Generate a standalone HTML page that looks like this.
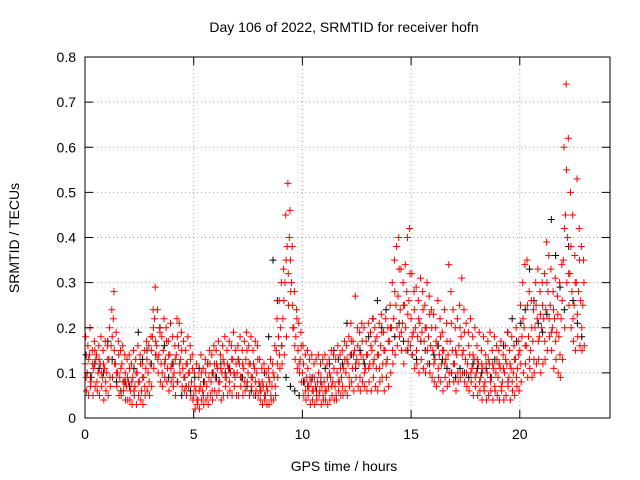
<!DOCTYPE html>
<html><head><meta charset="utf-8"><style>
body{margin:0;background:#fff;}
svg{display:block;font-family:"Liberation Sans",sans-serif;}
</style></head><body>
<svg id="chart" width="640" height="480">
<rect width="640" height="480" fill="#fff"/>
<g id="grid"></g>
<g id="marks"></g>
<rect x="85" y="57" width="525" height="361" fill="none" stroke="#000" stroke-width="1"/>
<g id="axes"></g>
<text x="344" y="32" font-size="14" text-anchor="middle">Day 106 of 2022, SRMTID for receiver hofn</text>
<text x="344" y="471" font-size="14" text-anchor="middle">GPS time / hours</text>
<text transform="translate(19,238) rotate(-90)" font-size="14" text-anchor="middle">SRMTID / TECUs</text>
</svg>
<script>
const xTicks=[0,5,10,15,20];
const yTicks=[0,0.1,0.2,0.3,0.4,0.5,0.6,0.7,0.8];
const yTickLabels=["0","0.1","0.2","0.3","0.4","0.5","0.6","0.7","0.8"];
const tStart=0, tStep=0.1;
const midVals=[.12,.10,.14,.09,.11,.13,.10,.12,.09,.11,.10,.13,.16,.22,.12,.10,.09,.12,.08,.07,.08,.06,.09,.07,.10,.08,.06,.09,.11,.10,.12,.18,.22,.16,.14,.12,.15,.13,.11,.14,.12,.10,.14,.16,.13,.11,.09,.12,.10,.08,.05,.06,.04,.07,.06,.08,.07,.09,.08,.10,.09,.11,.08,.10,.12,.09,.11,.10,.13,.09,.10,.12,.09,.11,.13,.10,.12,.09,.11,.10,.08,.06,.07,.05,.06,.08,.07,.09,.15,.18,.20,.22,.30,.38,.40,.30,.20,.18,.15,.13,.10,.08,.09,.07,.08,.06,.07,.08,.06,.07,.08,.06,.07,.09,.08,.07,.10,.08,.09,.11,.10,.12,.14,.11,.15,.13,.12,.14,.13,.11,.14,.12,.15,.13,.11,.14,.16,.12,.15,.13,.17,.20,.22,.25,.27,.24,.21,.25,.28,.26,.22,.19,.20,.18,.21,.19,.17,.20,.18,.16,.15,.13,.16,.14,.12,.15,.13,.14,.17,.15,.12,.14,.16,.18,.15,.13,.12,.14,.11,.13,.10,.12,.09,.11,.08,.10,.12,.09,.11,.10,.09,.11,.08,.10,.12,.09,.11,.10,.13,.11,.15,.18,.20,.16,.18,.15,.17,.20,.22,.18,.20,.22,.24,.28,.25,.20,.22,.19,.18,.22,.35,.45,.40,.32,.28,.25,.30,.28,.26,.25];
const hiVals=[.18,.16,.20,.15,.17,.14,.16,.18,.15,.17,.16,.20,.24,.28,.19,.17,.15,.16,.14,.13,.14,.12,.15,.13,.16,.14,.12,.15,.17,.16,.18,.24,.29,.24,.20,.18,.22,.20,.17,.21,.18,.16,.22,.21,.19,.17,.15,.18,.16,.14,.10,.12,.09,.14,.11,.13,.12,.15,.14,.16,.15,.17,.14,.16,.18,.15,.17,.16,.19,.15,.16,.18,.15,.17,.19,.16,.18,.15,.17,.16,.13,.11,.12,.10,.11,.13,.12,.16,.22,.26,.30,.33,.45,.52,.46,.38,.28,.24,.21,.19,.16,.14,.15,.13,.14,.12,.13,.14,.12,.13,.14,.12,.13,.15,.14,.13,.16,.14,.15,.17,.16,.18,.21,.17,.27,.20,.19,.21,.20,.17,.21,.19,.22,.20,.18,.21,.23,.19,.22,.20,.25,.30,.35,.38,.40,.33,.30,.34,.40,.42,.32,.28,.29,.26,.31,.28,.25,.30,.27,.24,.23,.20,.26,.22,.19,.24,.21,.34,.28,.24,.20,.22,.25,.31,.24,.21,.19,.22,.18,.20,.16,.19,.15,.18,.14,.17,.19,.15,.18,.16,.15,.17,.14,.16,.19,.15,.18,.16,.20,.17,.25,.30,.34,.35,.28,.26,.24,.30,.33,.28,.30,.32,.39,.36,.33,.28,.31,.27,.30,.34,.60,.74,.62,.50,.45,.36,.53,.42,.38,.35];
const loVals=[.06,.05,.08,.05,.07,.06,.05,.07,.04,.06,.05,.07,.09,.12,.07,.05,.05,.06,.04,.04,.04,.03,.05,.03,.05,.04,.03,.05,.06,.05,.07,.11,.14,.10,.08,.07,.09,.08,.06,.08,.07,.05,.08,.10,.07,.06,.05,.07,.05,.04,.02,.03,.02,.04,.03,.04,.03,.05,.04,.06,.05,.06,.04,.05,.07,.05,.06,.05,.07,.05,.05,.07,.05,.06,.08,.05,.07,.05,.06,.05,.04,.03,.04,.03,.03,.04,.04,.05,.09,.11,.12,.14,.18,.25,.28,.20,.13,.11,.10,.08,.05,.04,.05,.03,.04,.03,.04,.05,.03,.04,.04,.03,.04,.05,.04,.04,.06,.05,.05,.06,.05,.07,.08,.06,.09,.07,.06,.08,.07,.06,.08,.06,.09,.07,.06,.08,.09,.06,.09,.07,.10,.12,.14,.16,.18,.15,.12,.15,.17,.16,.14,.11,.12,.10,.13,.11,.10,.12,.10,.09,.08,.07,.09,.08,.06,.09,.07,.08,.10,.08,.06,.08,.09,.10,.08,.07,.06,.08,.05,.07,.05,.06,.04,.06,.04,.05,.06,.04,.06,.05,.04,.06,.04,.05,.07,.04,.06,.05,.07,.06,.08,.10,.12,.09,.11,.09,.10,.12,.13,.10,.12,.13,.15,.18,.15,.11,.13,.10,.09,.13,.20,.30,.25,.20,.17,.15,.18,.16,.15,.16];
const extraVals=[.09,.13,.07,.12,.15,.08,.13,.10,.12,.08,.13,.09,.18,.15,.10,.14,.11,.08,.10,.09,.11,.08,.06,.10,.08,.12,.09,.07,.13,.08,.15,.20,.17,.13,.19,.10,.12,.17,.14,.11,.09,.13,.18,.12,.15,.09,.12,.10,.13,.11,.07,.04,.06,.10,.05,.10,.05,.12,.06,.12,.12,.08,.11,.13,.09,.12,.08,.13,.10,.12,.13,.09,.12,.08,.15,.12,.09,.12,.08,.13,.06,.08,.05,.07,.09,.05,.10,.07,.12,.14,.16,.26,.35,.32,.35,.25,.16,.22,.12,.16,.12,.06,.11,.09,.06,.09,.05,.10,.09,.05,.06,.09,.10,.07,.11,.05,.08,.11,.07,.13,.13,.09,.17,.14,.12,.16,.09,.17,.10,.14,.11,.16,.12,.17,.14,.11,.19,.15,.12,.17,.20,.15,.28,.20,.33,.19,.25,.20,.23,.32,.18,.24,.15,.22,.17,.24,.20,.15,.23,.20,.12,.17,.11,.18,.15,.12,.17,.10,.21,.12,.15,.10,.20,.14,.19,.10,.16,.10,.14,.09,.13,.08,.12,.07,.12,.13,.08,.12,.07,.13,.12,.07,.11,.13,.08,.12,.08,.13,.09,.14,.12,.22,.16,.25,.13,.20,.13,.25,.17,.23,.25,.17,.30,.22,.19,.24,.17,.23,.14,.26,.42,.55,.32,.38,.22,.30,.23,.35,.20,.30];
const blackStep=0.2;
const blackVals=[.14,.09,.12,.11,.10,.17,.13,.08,.06,.08,.07,.11,.19,.13,.15,.12,.14,.20,.16,.09,.12,.08,.05,.07,.06,.09,.11,.08,.12,.10,.09,.12,.10,.11,.10,.13,.09,.07,.06,.05,.07,.10,.18,.35,.26,.16,.09,.07,.06,.05,.08,.07,.09,.06,.08,.11,.12,.15,.13,.12,.21,.14,.11,.15,.12,.18,.22,.26,.20,.24,.20,.18,.21,.17,.15,.14,.13,.17,.15,.12,.14,.16,.13,.11,.10,.09,.11,.10,.09,.12,.11,.10,.11,.09,.13,.12,.16,.19,.22,.17,.21,.24,.33,.26,.21,.19,.23,.44,.36,.29,.24,.38,.26,.21,.18];
const NS="http://www.w3.org/2000/svg";
const X0=85,X1=610,Y0=418,Y1=57,XMAX=24.15,YMAX=0.8;
function xs(t){return X0+t/XMAX*(X1-X0);}
function ys(v){return Y0-v/YMAX*(Y0-Y1);}
const grid=document.getElementById('grid'),axes=document.getElementById('axes'),marks=document.getElementById('marks');
function mk(tag,attrs,parent){const e=document.createElementNS(NS,tag);for(const k in attrs)e.setAttribute(k,attrs[k]);parent.appendChild(e);return e;}
xTicks.forEach((t,i)=>{const x=xs(t);
 if(t>0){const g=mk('line',{x1:x,x2:x,y1:Y0,y2:Y1,stroke:'#a0a0a0','stroke-dasharray':'1,3'},grid);
 
 }
 mk('line',{x1:x,x2:x,y1:Y0,y2:Y0-8,stroke:'#000'},axes);
 mk('line',{x1:x,x2:x,y1:Y1,y2:Y1+8,stroke:'#000'},axes);
 const l=mk('text',{x:x,y:Y0+21,'font-size':14,'text-anchor':'middle'},axes);l.textContent=t;
 
 });
yTicks.forEach((v,i)=>{const y=ys(v);
 if(v>0&&v<0.8){const g=mk('line',{x1:X0,x2:X1,y1:y,y2:y,stroke:'#a0a0a0','stroke-dasharray':'1,3'},grid);
 
 }
 mk('line',{x1:X0,x2:X0+8,y1:y,y2:y,stroke:'#000'},axes);
 mk('line',{x1:X1,x2:X1-8,y1:y,y2:y,stroke:'#000'},axes);
 const l=mk('text',{x:X0-9,y:y+5,'font-size':14,'text-anchor':'end'},axes);l.textContent=yTickLabels[i];
 
 });
function plus(t,v,col){const x=xs(t),y=ys(v);
 const p=mk('path',{d:`M${x-3.5},${y}h7M${x},${y-3.5}v7`,stroke:col,'stroke-width':1,fill:'none'},marks);
 
 }
blackVals.forEach((v,i)=>plus(tStart+i*blackStep+0.05,v,'#000'));
midVals.forEach((v,i)=>plus(tStart+i*tStep,v,'#f00'));
hiVals.forEach((v,i)=>plus(tStart+i*tStep+0.033,v,'#f00'));
extraVals.forEach((v,i)=>plus(tStart+i*tStep+0.05,v,'#f00'));
loVals.forEach((v,i)=>plus(tStart+i*tStep+0.066,v,'#f00'));
</script>
</body></html>
